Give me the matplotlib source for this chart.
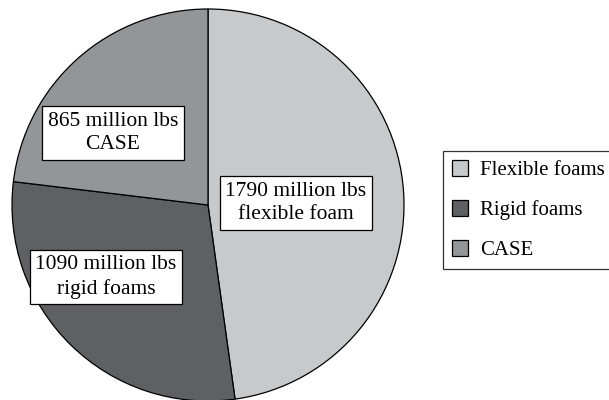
import matplotlib
matplotlib.use("Agg")
import matplotlib.pyplot as plt

# polyurethane consumption by segment
segments = ["Flexible foams", "Rigid foams", "CASE"]
box_names = ["flexible foam", "rigid foams", "CASE"]
amounts = [1790, 1090, 865]  # million lbs
colors = ["#c8c9cb", "#5f6063", "#939598"]

plt.rcParams["font.family"] = ["Liberation Serif", "DejaVu Serif"]

fig = plt.figure(figsize=(6.09, 4.0), dpi=100)
ax = fig.add_axes([0, 0, 1, 1])

wedges, _ = ax.pie(amounts, colors=colors, startangle=90, counterclock=False,
                   center=(208, 195), radius=196,
                   wedgeprops=dict(edgecolor="black", linewidth=0.9))
ax.set_xlim(0, 609)
ax.set_ylim(0, 400)
ax.set_aspect("equal")
ax.axis("off")

# callout boxes inside each slice
label_pos = [(296, 197), (106, 123), (113, 267)]
for (x, y), v, name in zip(label_pos, amounts, box_names):
    ax.text(x, y, f"{v} million lbs\n{name}", ha="center", va="center",
            fontsize=15.5, linespacing=1.35,
            bbox=dict(boxstyle="square,pad=0.25", fc="white", ec="black", lw=0.9))

leg = fig.legend(wedges, segments, loc="upper left",
                 bbox_to_anchor=(443 / 609, 1 - 151 / 400), borderaxespad=0,
                 fontsize=15, frameon=True, fancybox=False, edgecolor="black",
                 handlelength=0.78, handleheight=0.82, handletextpad=0.6,
                 labelspacing=0.95, borderpad=0.42)
leg.get_frame().set_linewidth(0.9)

fig.savefig("out.png", dpi=100)
